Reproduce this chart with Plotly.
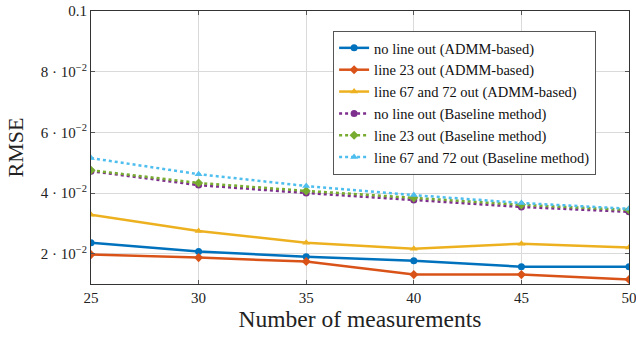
import plotly.graph_objects as go

x_vals = [25, 30, 35, 40, 45, 50]
admm_none = [0.0236, 0.0207, 0.0190, 0.0177, 0.0157, 0.0157]
admm_23 = [0.0197, 0.0187, 0.0174, 0.0131, 0.0131, 0.0115]
admm_6772 = [0.0328, 0.0275, 0.0236, 0.0216, 0.0233, 0.0220]
base_none = [0.0472, 0.0426, 0.0400, 0.0377, 0.0354, 0.0338]
base_23 = [0.0475, 0.0433, 0.0407, 0.0384, 0.0361, 0.0344]
base_6772 = [0.0515, 0.0462, 0.0423, 0.0393, 0.0367, 0.0348]

names = [
    "no line out (ADMM-based)",
    "line 23 out (ADMM-based)",
    "line 67 and 72 out (ADMM-based)",
    "no line out (Baseline method)",
    "line 23 out (Baseline method)",
    "line 67 and 72 out (Baseline method)",
]
series = [admm_none, admm_23, admm_6772, base_none, base_23, base_6772]
colors = ["#0072BD", "#D95319", "#EDB120", "#7E2F8E", "#77AC30", "#4DBEEE"]
symbols = ["circle", "diamond", "triangle-up", "circle", "diamond", "triangle-up"]
dashes = ["solid", "solid", "solid", "dot", "dot", "dot"]

y_tickvals = [0.02, 0.04, 0.06, 0.08, 0.1]
y_ticktext = ["2 · 10<sup>−2</sup>", "4 · 10<sup>−2</sup>", "6 · 10<sup>−2</sup>", "8 · 10<sup>−2</sup>", "0.1"]

fig = go.Figure()
for nm, ys, c, s, d in zip(names, series, colors, symbols, dashes):
    fig.add_trace(go.Scatter(
        x=x_vals, y=ys, name=nm, mode="lines+markers",
        line=dict(color=c, width=2.5, dash=d),
        marker=dict(symbol=s, size=7, color=c),
    ))

font_family = "Liberation Serif, serif"
fig.update_layout(
    width=636, height=337,
    margin=dict(l=91, r=7, t=11, b=53, autoexpand=False),
    paper_bgcolor="white", plot_bgcolor="white",
    font=dict(family=font_family, size=14, color="#222"),
    legend=dict(
        x=0.450, y=0.927, xanchor="left", yanchor="top",
        bgcolor="white", bordercolor="#555", borderwidth=1,
        font=dict(family=font_family, size=14.5, color="#111"),
        itemwidth=30, tracegroupgap=0,
    ),
    showlegend=True,
)
fig.update_xaxes(
    range=[25, 50], tickvals=x_vals, automargin=False, ticklabeloverflow="allow",
    showgrid=True, gridcolor="#dadada", gridwidth=1,
    showline=True, linecolor="#333", linewidth=1.2, mirror="ticks",
    ticks="inside", ticklen=4, tickcolor="#555",
    tickfont=dict(family=font_family, size=15, color="#222"),
    title=dict(text="Number of measurements", font=dict(family=font_family, size=23.5, color="#222"), standoff=0),
    zeroline=False,
)
fig.update_yaxes(
    range=[0.01, 0.1], tickvals=y_tickvals, ticktext=y_ticktext, automargin=False, ticklabeloverflow="allow",
    showgrid=True, gridcolor="#dadada", gridwidth=1,
    showline=True, linecolor="#333", linewidth=1.2, mirror="ticks",
    ticks="inside", ticklen=4, tickcolor="#555",
    tickfont=dict(family=font_family, size=15, color="#222"),
    title=dict(text="RMSE", font=dict(family=font_family, size=22, color="#222"), standoff=11),
    zeroline=False,
)

fig.write_html(
    "out.html",
    config={"displayModeBar": False},
    post_script="document.body.style.margin='0';",
)
